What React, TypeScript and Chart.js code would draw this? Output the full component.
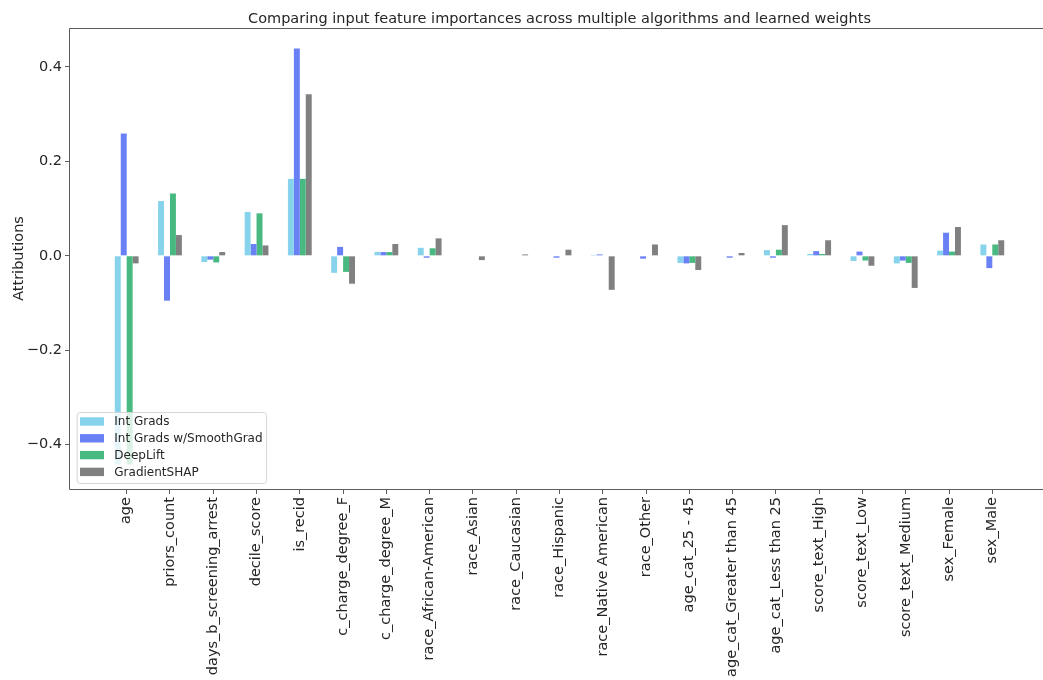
import React, { useEffect, useRef } from "react";
import { Chart, registerables } from "chart.js";

Chart.register(...registerables);

// Input features, in plotting order
const features = [
  "age",
  "priors_count",
  "days_b_screening_arrest",
  "decile_score",
  "is_recid",
  "c_charge_degree_F",
  "c_charge_degree_M",
  "race_African-American",
  "race_Asian",
  "race_Caucasian",
  "race_Hispanic",
  "race_Native American",
  "race_Other",
  "age_cat_25 - 45",
  "age_cat_Greater than 45",
  "age_cat_Less than 25",
  "score_text_High",
  "score_text_Low",
  "score_text_Medium",
  "sex_Female",
  "sex_Male",
];

// Normalised attribution sums per method
const intGrads = [
  -0.442, 0.116, -0.013, 0.093, 0.163, -0.036, 0.008, 0.017, -0.001, 0.001, 0.0,
  0.002, 0.0, -0.015, 0.0, 0.012, 0.004, -0.011, -0.016, 0.011, 0.024,
];
const intGradsSmooth = [
  0.259, -0.095, -0.008, 0.025, 0.439, 0.019, 0.008, -0.004, -0.001, 0.001, -0.004,
  0.003, -0.006, -0.016, -0.004, -0.004, 0.01, 0.009, -0.01, 0.049, -0.026,
];
const deepLift = [
  -0.442, 0.132, -0.014, 0.09, 0.163, -0.034, 0.008, 0.016, -0.001, 0.001, 0.0,
  -0.001, 0.0, -0.015, 0.0, 0.013, 0.004, -0.01, -0.015, 0.009, 0.024,
];
const gradientShap = [
  -0.016, 0.044, 0.008, 0.022, 0.342, -0.059, 0.025, 0.037, -0.009, 0.003, 0.013,
  -0.072, 0.024, -0.03, 0.006, 0.065, 0.033, -0.021, -0.068, 0.061, 0.033,
];

const seriesNames = ["Int Grads", "Int Grads w/SmoothGrad", "DeepLift", "GradientSHAP"];
const seriesColors = ["#86d3eb", "#6a80f5", "#48b980", "#808080"];
const yTicks = [-0.4, -0.2, 0.0, 0.2, 0.4];

const FONT_FAMILY = "'DejaVu Sans', sans-serif";
const TEXT = "#262626";
const SPINE = "#5c5c5c";

const fmtY = (v: number) =>
  (v < -1e-9 ? "\u2212" : "") + Math.abs(v).toFixed(1);

// Left, bottom and top edges of the axes box
const framePlugin = {
  id: "axesFrame",
  afterDatasetsDraw(chart: any) {
    const { ctx, chartArea: a } = chart;
    ctx.save();
    ctx.strokeStyle = SPINE;
    ctx.lineWidth = 1;
    const l = Math.round(a.left) - 0.5;
    const t = Math.round(a.top) + 0.5;
    const r = Math.round(a.right) + 0.5;
    const b = Math.round(a.bottom) + 0.5;
    ctx.beginPath();
    ctx.moveTo(r, t);
    ctx.lineTo(l, t);
    ctx.lineTo(l, b);
    ctx.lineTo(r, b);
    ctx.stroke();
    ctx.restore();
  },
};

// Legend drawn inside the plot, lower-left corner
const innerLegend = {
  id: "innerLegend",
  afterDraw(chart: any) {
    const { ctx, chartArea: a } = chart;
    const sets = chart.data.datasets;
    const boxLeft = a.left + 6.7;
    const boxW = 189.3;
    const boxH = 71;
    const boxTop = a.bottom - 6 - boxH;
    ctx.save();
    ctx.beginPath();
    ctx.roundRect(boxLeft + 0.5, boxTop + 0.5, boxW, boxH, 3);
    ctx.fillStyle = "rgba(255,255,255,0.8)";
    ctx.fill();
    ctx.strokeStyle = "#d6d6d6";
    ctx.lineWidth = 1;
    ctx.stroke();
    ctx.font = `12px ${FONT_FAMILY}`;
    ctx.textBaseline = "middle";
    ctx.textAlign = "left";
    sets.forEach((ds: any, i: number) => {
      const cy = boxTop + 9.5 + i * 16.8;
      ctx.fillStyle = ds.backgroundColor;
      ctx.fillRect(boxLeft + 3.3, cy - 4.2, 24, 8.4);
      ctx.fillStyle = TEXT;
      ctx.fillText(ds.label, boxLeft + 37.6, cy + 0.5);
    });
    ctx.restore();
  },
};

export default function App() {
  const canvasRef = useRef<HTMLCanvasElement | null>(null);

  useEffect(() => {
    if (!canvasRef.current) return;
    const series = [intGrads, intGradsSmooth, deepLift, gradientShap];
    const font = { family: FONT_FAMILY, size: 14.5 };
    const chart = new Chart(canvasRef.current, {
      type: "bar",
      data: {
        datasets: series.map((vals, s) => ({
          label: seriesNames[s],
          data: vals.map((y, i) => ({ x: i, y })),
          backgroundColor: seriesColors[s],
          borderWidth: 0,
          categoryPercentage: 0.55,
          barPercentage: 1.0,
        })),
      },
      options: {
        responsive: true,
        maintainAspectRatio: false,
        animation: false,
        events: [],
        layout: { padding: { left: 0, right: 11, top: 0, bottom: 0 } },
        plugins: {
          legend: { display: false },
          tooltip: { enabled: false },
          title: {
            display: true,
            fullSize: false,
            text: "Comparing input feature importances across multiple algorithms and learned weights",
            color: TEXT,
            font: { family: FONT_FAMILY, size: 14.5, weight: "normal" },
            padding: { top: 10.5, bottom: 0.1 },
          },
        },
        scales: {
          x: {
            type: "linear",
            min: -1.31,
            max: 21.31,
            offset: false,
            afterBuildTicks: (scale: any) => {
              scale.ticks = features.map((_, i) => ({ value: i }));
            },
            afterFit: (scale: any) => {
              scale.height = 191;
            },
            grid: {
              display: true,
              offset: false,
              drawOnChartArea: false,
              drawTicks: true,
              tickLength: 5,
              color: SPINE,
            },
            border: { display: false },
            ticks: {
              autoSkip: false,
              minRotation: 90,
              maxRotation: 90,
              padding: 3,
              color: TEXT,
              font,
              callback: (_v: any, i: number) => features[i] ?? "",
            },
          },
          y: {
            min: -0.4938,
            max: 0.4825,
            afterBuildTicks: (scale: any) => {
              scale.ticks = yTicks.map((v) => ({ value: v }));
            },
            afterFit: (scale: any) => {
              scale.width = 70;
            },
            grid: {
              display: true,
              offset: false,
              drawOnChartArea: false,
              drawTicks: true,
              tickLength: 5,
              color: SPINE,
            },
            border: { display: false },
            ticks: {
              padding: 3,
              color: TEXT,
              font,
              callback: (v: any) => fmtY(Number(v)),
            },
            title: {
              display: true,
              text: "Attributions",
              color: TEXT,
              font,
              padding: { top: 11, bottom: 0 },
            },
          },
        },
      },
      plugins: [framePlugin, innerLegend],
    } as any);
    return () => chart.destroy();
  }, []);

  return (
    <div
      style={{
        position: "fixed",
        left: 0,
        top: 0,
        width: 1043,
        height: 680,
        overflow: "hidden",
        background: "#ffffff",
      }}
    >
      <div style={{ position: "relative", width: 1060, height: 680 }}>
        <canvas ref={canvasRef} />
      </div>
    </div>
  );
}
